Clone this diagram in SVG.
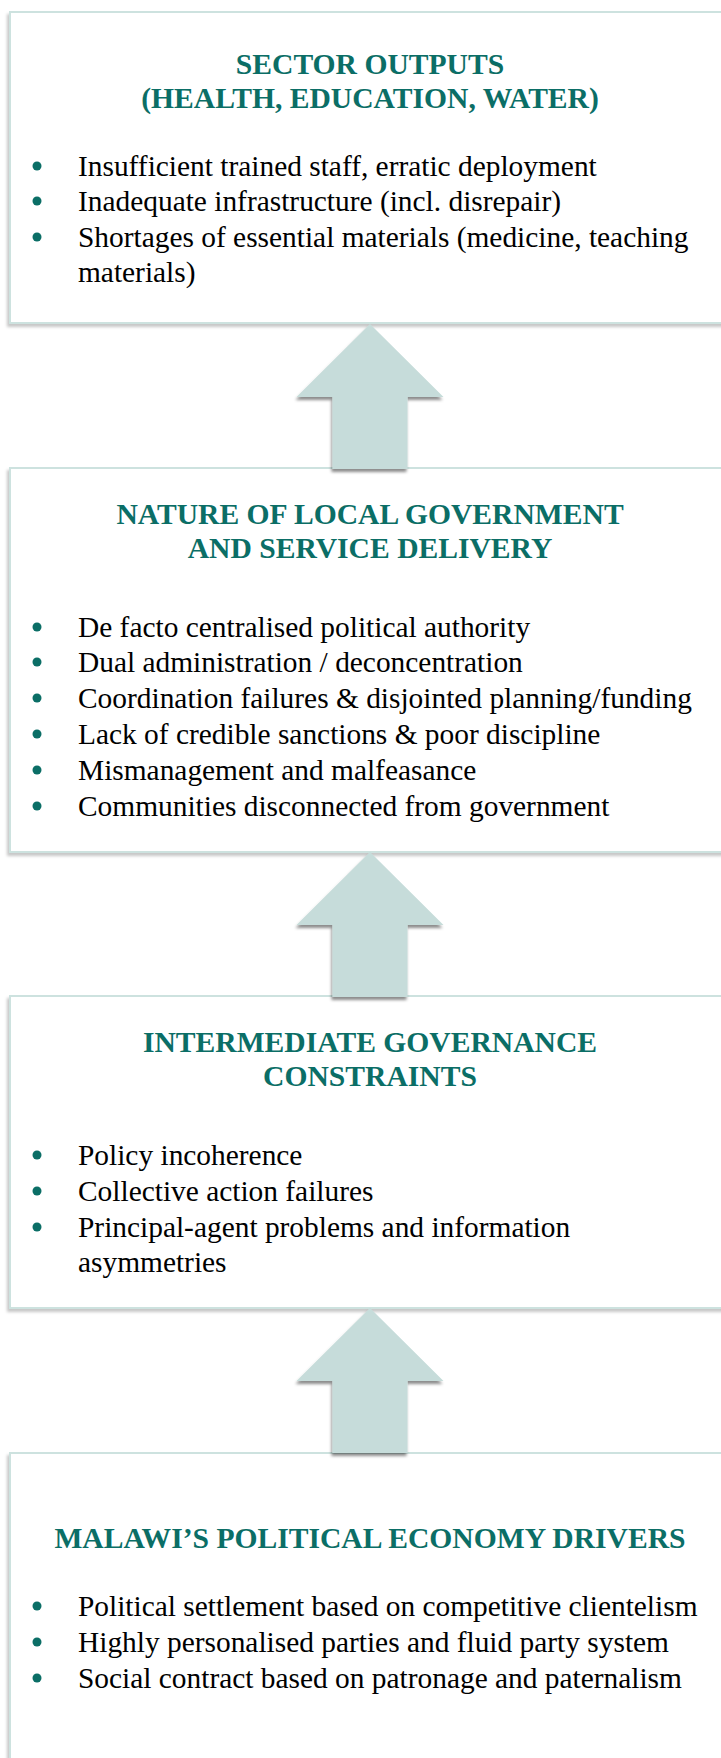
<svg xmlns="http://www.w3.org/2000/svg" width="721" height="1758" viewBox="0 0 721 1758">
  <defs>
    <filter id="boxShadow" x="-5%" y="-5%" width="110%" height="110%">
      <feDropShadow dx="-2" dy="3" stdDeviation="1.6" flood-color="#000" flood-opacity="0.22"/>
    </filter>
    <filter id="arrowShadow" x="-20%" y="-20%" width="140%" height="140%">
      <feDropShadow dx="-1" dy="3" stdDeviation="1.5" flood-color="#000" flood-opacity="0.45"/>
    </filter>
    <path id="arrowShape" d="M0,0 L73.5,73 L37.5,73 L37.5,145 L-37.5,145 L-37.5,73 L-73.5,73 Z"/>
  </defs>
  <style>
    .box { fill: #ffffff; stroke: #cde2df; stroke-width: 2; filter: url(#boxShadow); }
    .title { font-family: "Liberation Serif", "Times New Roman", serif; font-weight: bold; font-size: 29.6px; fill: #0b6e66; text-anchor: middle; }
    .item { font-family: "Liberation Serif", "Times New Roman", serif; font-size: 29.4px; fill: #000000; }
    .dot { fill: #0b6e66; }
    .arrow { fill: #c6dcda; filter: url(#arrowShadow); }
  </style>
  <rect x="0" y="0" width="721" height="1758" fill="#ffffff"/>

  <g id="node-sector-outputs">
    <rect class="box" x="10" y="12" width="740" height="311"/>
    <text class="title" x="370" y="74">SECTOR OUTPUTS</text>
    <text class="title" x="370" y="108">(HEALTH, EDUCATION, WATER)</text>
    <circle class="dot" cx="37" cy="166" r="4.5"/>
    <text class="item" x="78" y="176">Insufficient trained staff, erratic deployment</text>
    <circle class="dot" cx="37" cy="201" r="4.5"/>
    <text class="item" x="78" y="211">Inadequate infrastructure (incl. disrepair)</text>
    <circle class="dot" cx="37" cy="237" r="4.5"/>
    <text class="item" x="78" y="247">Shortages of essential materials (medicine, teaching</text>
    <text class="item" x="78" y="282">materials)</text>
  </g>

  <g id="node-local-government">
    <rect class="box" x="10" y="468" width="740" height="384"/>
    <text class="title" x="370" y="524">NATURE OF LOCAL GOVERNMENT</text>
    <text class="title" x="370" y="558">AND SERVICE DELIVERY</text>
    <circle class="dot" cx="37" cy="627" r="4.5"/>
    <text class="item" x="78" y="637">De facto centralised political authority</text>
    <circle class="dot" cx="37" cy="662" r="4.5"/>
    <text class="item" x="78" y="672">Dual administration / deconcentration</text>
    <circle class="dot" cx="37" cy="698" r="4.5"/>
    <text class="item" x="78" y="708">Coordination failures &amp; disjointed planning/funding</text>
    <circle class="dot" cx="37" cy="734" r="4.5"/>
    <text class="item" x="78" y="744">Lack of credible sanctions &amp; poor discipline</text>
    <circle class="dot" cx="37" cy="770" r="4.5"/>
    <text class="item" x="78" y="780">Mismanagement and malfeasance</text>
    <circle class="dot" cx="37" cy="806" r="4.5"/>
    <text class="item" x="78" y="816">Communities disconnected from government</text>
  </g>

  <g id="node-intermediate-governance">
    <rect class="box" x="10" y="996" width="740" height="312"/>
    <text class="title" x="370" y="1052">INTERMEDIATE GOVERNANCE</text>
    <text class="title" x="370" y="1086">CONSTRAINTS</text>
    <circle class="dot" cx="37" cy="1155" r="4.5"/>
    <text class="item" x="78" y="1165">Policy incoherence</text>
    <circle class="dot" cx="37" cy="1191" r="4.5"/>
    <text class="item" x="78" y="1201">Collective action failures</text>
    <circle class="dot" cx="37" cy="1227" r="4.5"/>
    <text class="item" x="78" y="1237">Principal-agent problems and information</text>
    <text class="item" x="78" y="1272">asymmetries</text>
  </g>

  <g id="node-political-economy">
    <rect class="box" x="10" y="1453" width="740" height="340"/>
    <text class="title" x="370" y="1548">MALAWI’S POLITICAL ECONOMY DRIVERS</text>
    <circle class="dot" cx="37" cy="1606" r="4.5"/>
    <text class="item" x="78" y="1616">Political settlement based on competitive clientelism</text>
    <circle class="dot" cx="37" cy="1642" r="4.5"/>
    <text class="item" x="78" y="1652">Highly personalised parties and fluid party system</text>
    <circle class="dot" cx="37" cy="1678" r="4.5"/>
    <text class="item" x="78" y="1688">Social contract based on patronage and paternalism</text>
  </g>

  <g id="connectors">
    <use href="#arrowShape" class="arrow" x="370" y="324"/>
    <use href="#arrowShape" class="arrow" x="370" y="852"/>
    <use href="#arrowShape" class="arrow" x="370" y="1308"/>
  </g>
</svg>
